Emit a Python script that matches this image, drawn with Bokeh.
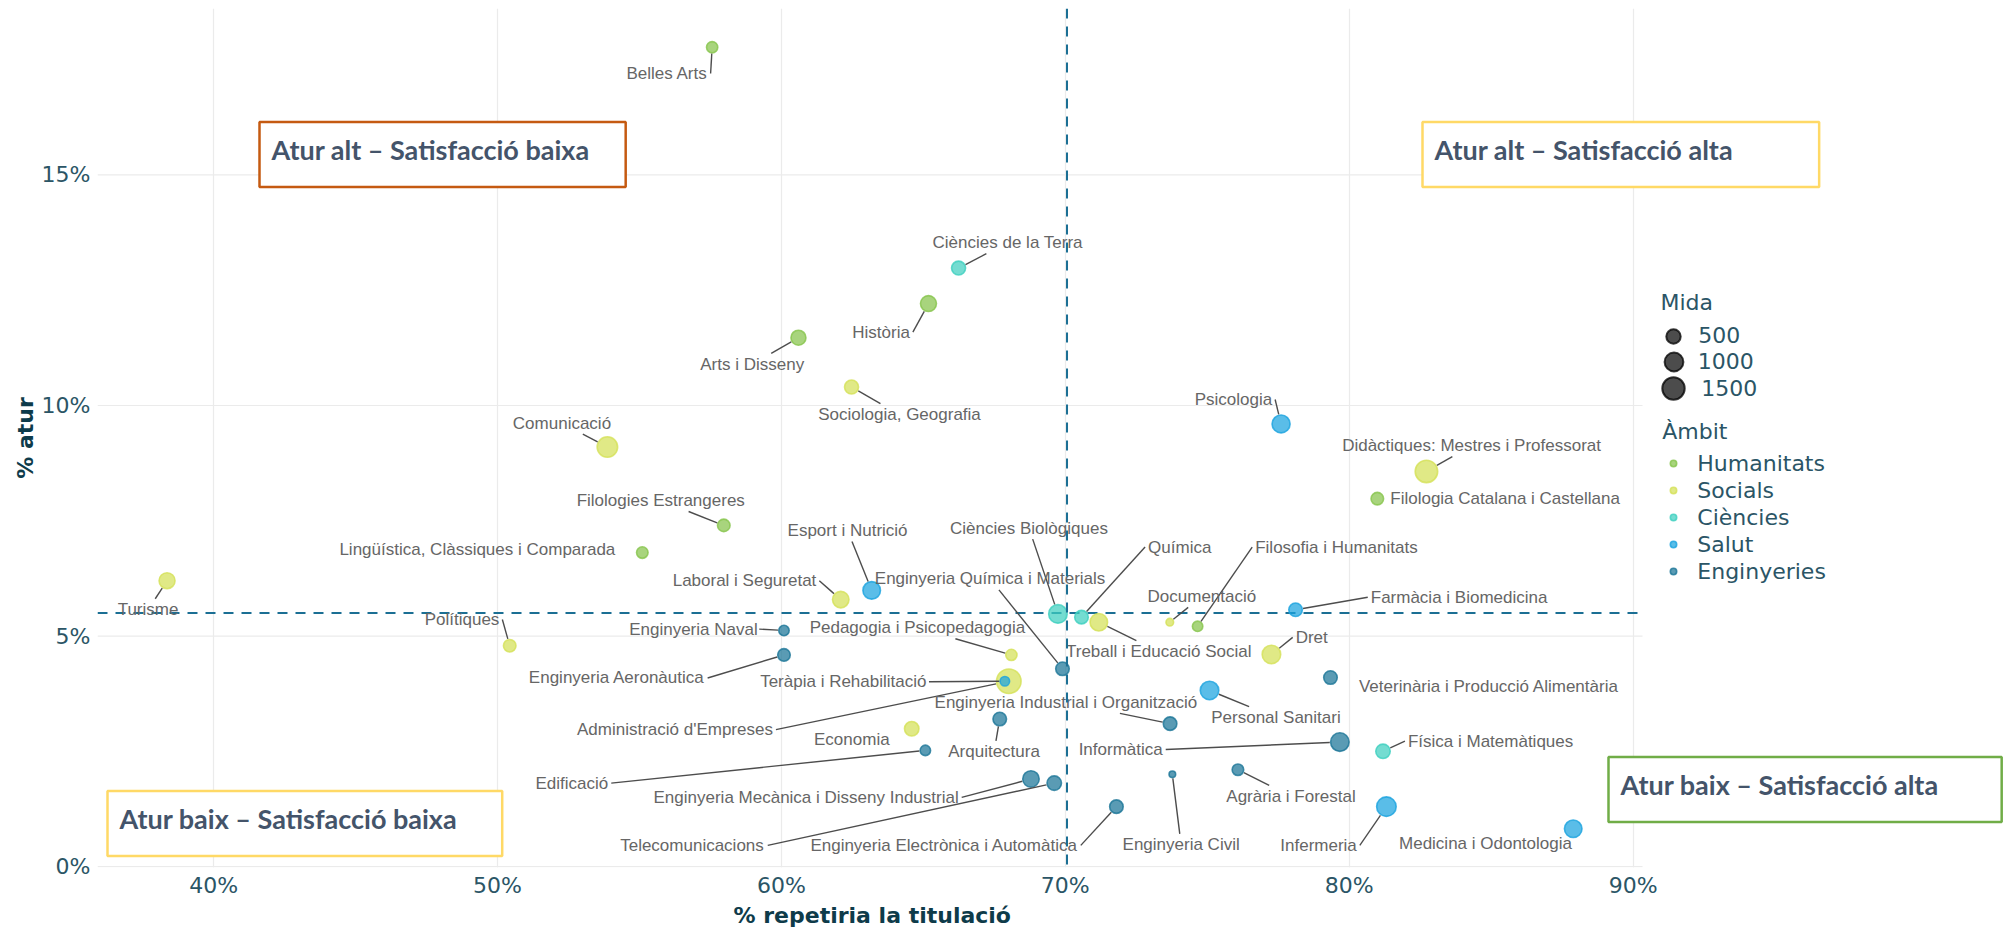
import numpy as np
from bokeh.plotting import figure
from bokeh.models import (ColumnDataSource, Label, Legend, LegendItem, Span, Title,
                          FixedTicker, PrintfTickFormatter)
from bokeh.core.properties import value
from bokeh.embed import file_html
from bokeh.resources import INLINE

# ---------------- data ----------------
ambits = ["Humanitats", "Socials", "Ciències", "Salut", "Enginyeries"]

titulacio = [
    "Belles Arts", "Història", "Arts i Disseny", "Filologies Estrangeres",
    "Lingüística, Clàssiques i Comparada", "Filosofia i Humanitats",
    "Filologia Catalana i Castellana",
    "Turisme", "Comunicació", "Sociologia, Geografia", "Polítiques",
    "Laboral i Seguretat", "Pedagogia i Psicopedagogia", "Administració d'Empreses",
    "Economia", "Treball i Educació Social", "Documentació", "Dret",
    "Didàctiques: Mestres i Professorat",
    "Ciències de la Terra", "Ciències Biològiques", "Química", "Física i Matemàtiques",
    "Esport i Nutrició", "Teràpia i Rehabilitació", "Psicologia", "Farmàcia i Biomedicina",
    "Personal Sanitari", "Infermeria", "Medicina i Odontologia",
    "Enginyeria Naval", "Enginyeria Aeronàutica", "Enginyeria Química i Materials",
    "Enginyeria Industrial i Organització", "Arquitectura", "Edificació", "Informàtica",
    "Agrària i Forestal", "Enginyeria Civil", "Enginyeria Mecànica i Disseny Industrial",
    "Telecomunicacions", "Enginyeria Electrònica i Automàtica",
    "Veterinària i Producció Alimentària",
]
ambit = (["Humanitats"] * 7 + ["Socials"] * 12 + ["Ciències"] * 4 +
         ["Salut"] * 7 + ["Enginyeries"] * 13)

# % repetiria la titulació
repetiria = [57.56, 65.18, 60.60, 57.97, 55.10, 74.66, 80.99,
             38.36, 53.87, 62.47, 50.43, 62.09, 68.10, 68.01, 64.59, 71.18, 73.68, 77.26, 82.72,
             66.24, 69.74, 70.57, 81.19,
             63.18, 67.87, 77.60, 78.11, 75.08, 81.31, 87.89,
             60.09, 60.09, 69.90, 73.69, 67.69, 65.07, 79.67, 76.08, 73.77, 68.79, 69.61, 71.80, 79.34]
# % atur
atur = [17.77, 12.21, 11.47, 7.40, 6.81, 5.21, 7.98,
        6.20, 9.10, 10.40, 4.79, 5.79, 4.59, 4.02, 2.99, 5.30, 5.30, 4.60, 8.57,
        12.98, 5.48, 5.41, 2.50,
        5.99, 4.02, 9.60, 5.57, 3.82, 1.30, 0.82,
        5.12, 4.59, 4.29, 3.10, 3.20, 2.52, 2.70, 2.10, 2.00, 1.90, 1.81, 1.30, 4.10]
# Mida (respostes)
mida = [250, 650, 550, 340, 270, 200, 340,
        650, 1200, 460, 340, 700, 250, 1840, 500, 820, 70, 940, 1500,
        460, 940, 420, 500,
        820, 150, 880, 420, 940, 1070, 820,
        200, 340, 420, 420, 420, 200, 940, 270, 40, 700, 500, 420, 420]

llindar_repetiria = 70.06
llindar_atur = 5.5

x_ticks = [40, 50, 60, 70, 80, 90]
y_ticks = [0, 5, 10, 15]
mida_llegenda = [500, 1000, 1500]

quadrants = ["Atur alt – Satisfacció baixa", "Atur alt – Satisfacció alta",
             "Atur baix – Satisfacció baixa", "Atur baix – Satisfacció alta"]

# ---------------- label layout (repelled positions, data units) ----------------
etiqueta_x = [55.97, 63.51, 58.97, 55.75, 49.29, 79.55, 85.49,
              37.69, 52.27, 64.16, 48.75, 58.70, 64.79, 56.25, 62.48, 73.29, 74.81, 78.68, 84.31,
              67.97, 68.72, 74.03, 84.98,
              62.33, 62.18, 75.92, 83.87, 77.42, 78.92, 84.80,
              56.90, 54.20, 67.35, 70.02, 67.49, 52.62, 71.95, 77.95, 74.08, 60.87, 56.85, 65.73, 84.92]
etiqueta_y = [17.20, 11.59, 10.89, 7.94, 6.87, 6.93, 7.98,
              5.57, 9.62, 9.80, 5.36, 6.20, 5.18, 2.97, 2.75, 4.66, 5.86, 4.97, 9.13,
              13.53, 7.34, 6.93, 2.72,
              7.29, 4.01, 10.13, 5.84, 3.23, 0.46, 0.49,
              5.15, 4.09, 6.24, 3.56, 2.49, 1.81, 2.54, 1.52, 0.47, 1.50, 0.46, 0.46, 3.91]
sense_linia = {"Lingüística, Clàssiques i Comparada", "Filologia Catalana i Castellana",
               "Economia", "Medicina i Odontologia", "Veterinària i Producció Alimentària"}

# ---------------- styles / geometry ----------------
colors = {"Humanitats": "#86C44B", "Socials": "#D4E157", "Ciències": "#3FCFBF",
          "Salut": "#1AA3DF", "Enginyeries": "#1B7597"}
AXC = "#2B5566"
TITC = "#0E3B4A"
W, H = 2013, 928
BL, BR, BT, BB = 97, 0, 8, 61
FW, FH = W - BL - BR, H - BT - BB
X0 = 35.91                      # left limit of the panel
XLIM = 90.33                    # right limit of the data panel (grid / thresholds)
X1 = X0 + FW / 28.39            # frame continues to the right for legend / boxes
Y0, Y1 = -0.02, 18.61
LW = 1.6


def msize(n):
    return 3.5 + 0.49 * np.sqrt(np.asarray(n, dtype=float))


def to_sx(x): return (x - X0) / (X1 - X0) * FW
def to_sy(y): return (Y1 - y) / (Y1 - Y0) * FH
def from_sx(s): return X0 + s / FW * (X1 - X0)
def from_sy(s): return Y1 - s / FH * (Y1 - Y0)
def cx(c): return from_sx(c - BL)      # canvas x -> data
def cy(c): return from_sy(c - BT)      # canvas y -> data


p = figure(width=W, height=H, x_range=(X0, X1), y_range=(Y0, Y1),
           output_backend="svg", toolbar_location=None,
           min_border_left=BL, min_border_right=BR, min_border_top=BT, min_border_bottom=BB)
p.title.visible = False
p.outline_line_color = None
p.background_fill_color = "white"
p.border_fill_color = "white"

for ax, ticks in ((p.xaxis, x_ticks), (p.yaxis, y_ticks)):
    ax.ticker = FixedTicker(ticks=ticks)
    ax.formatter = PrintfTickFormatter(format="%d%%")
    ax.axis_line_color = None
    ax.major_tick_line_color = None
    ax.minor_tick_line_color = None
    ax.major_tick_out = 0
    ax.major_tick_in = 0
    ax.minor_tick_out = 0
    ax.major_label_text_font = "DejaVu Sans"
    ax.major_label_text_font_size = "22px"
    ax.major_label_text_color = AXC
p.xaxis.major_label_standoff = 5
p.yaxis.major_label_standoff = 7
p.yaxis.axis_label = "% atur"
p.yaxis.axis_label_text_font = "DejaVu Sans"
p.yaxis.axis_label_text_font_style = "bold"
p.yaxis.axis_label_text_font_size = "22px"
p.yaxis.axis_label_text_color = TITC
p.yaxis.axis_label_standoff = 1

p.add_layout(Title(text="% repetiria la titulació", align="left", offset=636, standoff=0,
                   text_font="DejaVu Sans", text_font_style="bold", text_font_size="22px",
                   text_color=TITC), "below")

# grid: vertical from the axis ticker, horizontal limited to the data panel
p.xgrid.ticker = FixedTicker(ticks=x_ticks)
p.xgrid.grid_line_color = "#EBEBEB"
p.xgrid.grid_line_width = 1.2
p.ygrid.visible = False
p.segment(x0=[X0] * len(y_ticks), y0=y_ticks, x1=[XLIM] * len(y_ticks), y1=y_ticks,
          line_color="#EBEBEB", line_width=1.2)

# quadrant thresholds
p.add_layout(Span(location=llindar_repetiria, dimension="height", line_color="#1B6F94",
                  line_width=2, line_dash="10 8"))
p.segment(x0=[X0], y0=[llindar_atur], x1=[XLIM], y1=[llindar_atur],
          line_color="#1B6F94", line_width=2, line_dash="10 8")

# points
sizes = msize(mida)
renderers = {}
for amb in ambits:
    idx = [i for i, a in enumerate(ambit) if a == amb]
    src = ColumnDataSource(dict(x=[repetiria[i] for i in idx], y=[atur[i] for i in idx],
                                s=[sizes[i] for i in idx], name=[titulacio[i] for i in idx]))
    renderers[amb] = p.scatter("x", "y", size="s", source=src, fill_color=colors[amb],
                               line_color=colors[amb], fill_alpha=0.72, line_alpha=0.8,
                               line_width=LW)

# repel segments
AW = {' ': 278, "'": 191, ',': 278, ':': 278, 'A': 667, 'B': 667, 'C': 722, 'D': 722,
      'E': 667, 'F': 611, 'G': 778, 'H': 722, 'I': 278, 'L': 556, 'M': 833, 'P': 667,
      'Q': 778, 'S': 667, 'T': 611, 'V': 667, 'a': 556, 'b': 556, 'c': 500, 'd': 556,
      'e': 556, 'f': 278, 'g': 556, 'h': 556, 'i': 222, 'j': 222, 'k': 500, 'l': 222,
      'm': 833, 'n': 556, 'o': 556, 'p': 556, 'q': 556, 'r': 333, 's': 500, 't': 278,
      'u': 556, 'v': 500, 'x': 500, 'y': 500, 'z': 500, 'à': 556, 'è': 556, 'ò': 556,
      'ó': 556, 'í': 278, 'ü': 556, 'ç': 500}
FS = 17
x0s, y0s, x1s, y1s = [], [], [], []
for i, name in enumerate(titulacio):
    if name in sense_linia:
        continue
    w = FS * sum(AW.get(c, 556) for c in name) / 1000.0
    lxs, lys = to_sx(etiqueta_x[i]), to_sy(etiqueta_y[i])
    pxs, pys = to_sx(repetiria[i]), to_sy(atur[i])
    hw, hh = w / 2 + 3, 11
    if pxs > lxs + hw:
        axs, ays = lxs + hw, lys
    elif pxs < lxs - hw:
        axs, ays = lxs - hw, lys
    else:
        d = pys - lys
        sgn = 1 if d > 0 else -1
        ays = lys + sgn * hh
        t = hh / abs(d) if abs(d) > 1e-6 else 0
        axs = lxs + (pxs - lxs) * t
    vx, vy = axs - pxs, ays - pys
    L = np.hypot(vx, vy)
    r = (sizes[i] + LW) / 2
    if L <= r + 1:
        continue
    sxs, sys_ = pxs + vx / L * r, pys + vy / L * r
    x0s.append(from_sx(sxs)); y0s.append(from_sy(sys_))
    x1s.append(from_sx(axs)); y1s.append(from_sy(ays))
p.segment(x0s, y0s, x1s, y1s, line_color="#4D4D4D", line_width=1.4)

# text labels
lab_src = ColumnDataSource(dict(x=etiqueta_x, y=etiqueta_y, t=titulacio))
p.text("x", "y", text="t", source=lab_src, text_font=value("Liberation Sans"),
       text_font_size="17px", text_color="#666666", text_align="center",
       text_baseline="middle")

# quadrant boxes: (box-left canvas x, box-center canvas y, border colour, right pad)
boxes = [(259, 154, "#C55A11", 36), (1422, 154, "#FFD966", 86),
         (107, 823, "#FFD966", 45), (1608, 789, "#70AD47", 63)]
for txt, (bx, by, bc, rp) in zip(quadrants, boxes):
    p.add_layout(Label(x=cx(bx), y=cy(by), text=txt, text_font="Lato",
                       text_font_style="bold", text_font_size="27px", text_color="#44546A",
                       text_align="left", text_baseline="middle",
                       background_fill_color="white", border_line_color=bc,
                       border_line_width=2.5, padding=(12, rp, 11, 21)))

# legend titles
p.add_layout(Label(x=cx(1660), y=cy(302), text="Mida", text_font="DejaVu Sans",
                   text_font_size="22px", text_color=AXC, text_align="left",
                   text_baseline="middle"))
p.add_layout(Label(x=cx(1661.7), y=cy(431), text="Àmbit", text_font="DejaVu Sans",
                   text_font_size="22px", text_color=AXC, text_align="left",
                   text_baseline="middle"))

# size legend (one legend per size so each key keeps its own diameter);
# the key renderers hold one point placed below the visible frame
GX, LABX = 1673.3, 1698
FB = BT + FH                     # frame bottom (canvas)
for n, ccy in zip(mida_llegenda, [335.7, 361.7, 388.3]):
    s = float(msize(n))
    r = p.scatter(x=[X0], y=[Y0 - 50], size=s, fill_color="black", fill_alpha=0.7,
                  line_color="black", line_alpha=0.75, line_width=2)
    gw = int(round(s / 0.4))
    leg = Legend(items=[LegendItem(label=str(n), renderers=[r])],
                 location=(GX - gw / 2 - BL, FB - (ccy + gw / 2)),
                 glyph_width=gw, glyph_height=gw,
                 label_standoff=max(0, int(round(LABX - GX - gw / 2))),
                 padding=0, margin=0, spacing=0, border_line_color=None,
                 background_fill_alpha=0, label_text_font="DejaVu Sans",
                 label_text_font_size="22px", label_text_color=AXC)
    p.add_layout(leg)

# ambit legend
gw = 16
item_h, gap = 25, 2
leg = Legend(items=[LegendItem(label=a, renderers=[renderers[a]]) for a in ambits],
             location=(GX - gw / 2 - BL, FB - (463.3 - item_h / 2 + 5 * item_h + 4 * gap)),
             glyph_width=gw, glyph_height=gw, label_standoff=int(round(LABX - 1 - GX - gw / 2)),
             label_height=item_h, padding=0, margin=0, spacing=gap, border_line_color=None,
             background_fill_alpha=0, label_text_font="DejaVu Sans",
             label_text_font_size="22px", label_text_color=AXC)
p.add_layout(leg)

open("out.html", "w").write(file_html(p, INLINE))
